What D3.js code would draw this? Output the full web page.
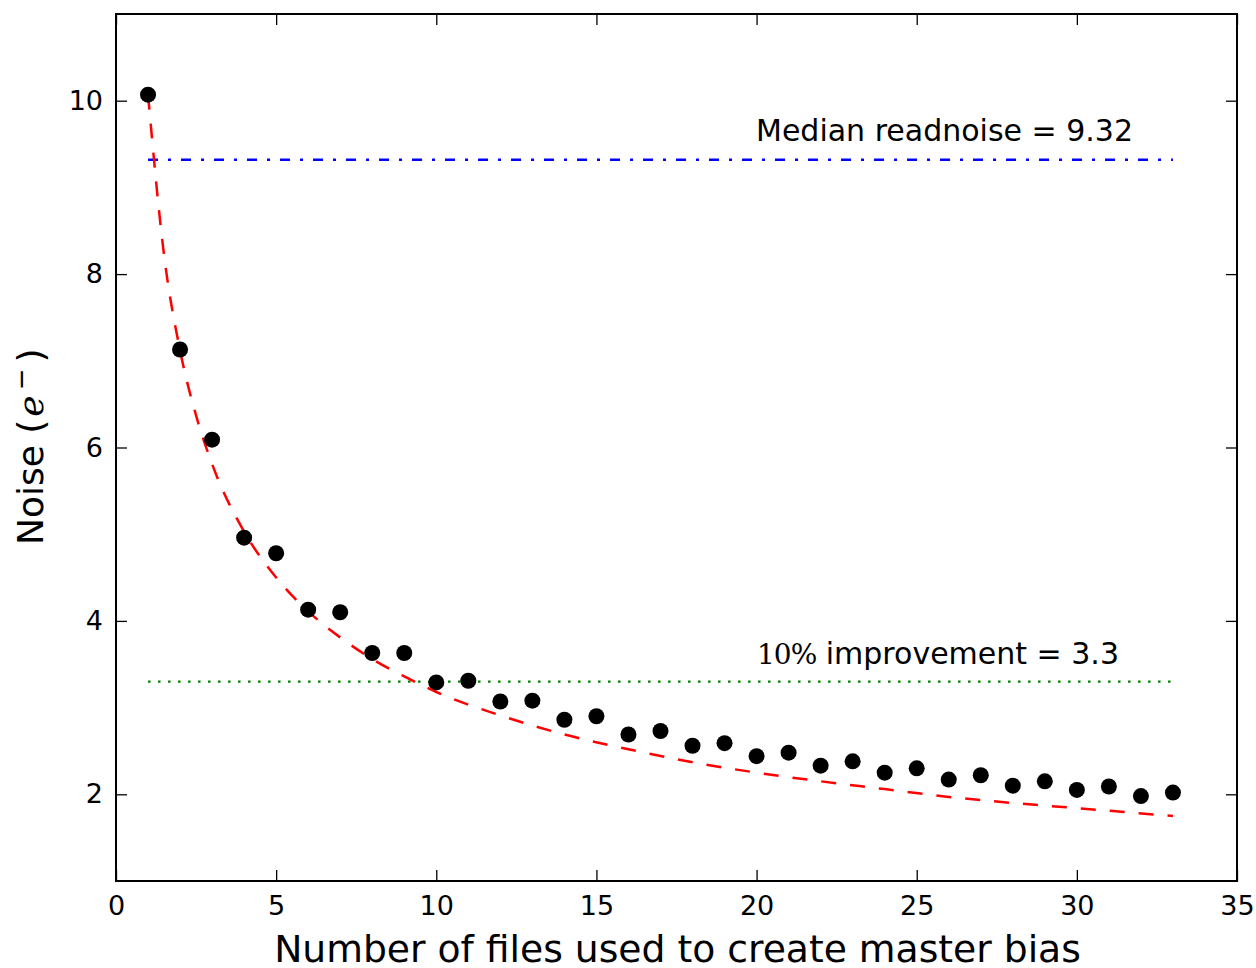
<!DOCTYPE html>
<html>
<head>
<meta charset="utf-8">
<script src="https://cdn.jsdelivr.net/npm/d3@7"></script>
<style>
  html, body { margin: 0; padding: 0; background: #fff; }
  svg { display: block; font-family: "DejaVu Sans", sans-serif; }
</style>
</head>
<body>
<svg id="chart" width="1256" height="968"></svg>
<script>
// Number of bias frames combined
const nFiles = d3.range(1, 34);
// Measured noise of the master bias (electrons)
const noise = [10.07, 7.13, 6.09, 4.96, 4.78, 4.13, 4.10, 3.63, 3.63, 3.29,
               3.31, 3.07, 3.08, 2.86, 2.90, 2.69, 2.73, 2.56, 2.59, 2.44,
               2.48, 2.33, 2.38, 2.25, 2.30, 2.17, 2.22, 2.10, 2.15, 2.05,
               2.09, 1.98, 2.02];
// Expected 1/sqrt(N) curve, sampled
const fitN     = [1, 1.5, 2, 2.5, 3, 4, 5, 6, 7, 8, 9, 10, 12, 14, 16, 18, 20, 22, 24, 26, 28, 30, 33];
const fitNoise = [10.07, 8.22, 7.12, 6.37, 5.81, 5.03, 4.50, 4.11, 3.81, 3.56, 3.36, 3.18,
                  2.91, 2.69, 2.52, 2.37, 2.25, 2.15, 2.06, 1.97, 1.90, 1.84, 1.75];
const medianReadnoise = 9.32;
const improvement = 3.3;
const xTicks = [0, 5, 10, 15, 20, 25, 30, 35];
const yTicks = [2, 4, 6, 8, 10];

const svg = d3.select("#chart");
const plotL = 116, plotR = 1237, plotT = 14, plotB = 881;

const x = d3.scaleLinear().domain([0, 35]).range([plotL, plotR]);
const y = d3.scaleLinear().domain([1, 11]).range([plotB, plotT]);

const tickFont = 27;
const tickLen = 11;

// Axes with inward ticks on all four sides
const axB = svg.append("g").attr("transform", `translate(0,${plotB})`)
  .call(d3.axisBottom(x).tickValues(xTicks).tickSizeInner(-tickLen).tickSizeOuter(0).tickPadding(15).tickFormat(d3.format("d")));
const axT = svg.append("g").attr("transform", `translate(0,${plotT})`)
  .call(d3.axisTop(x).tickValues(xTicks).tickSizeInner(-tickLen).tickSizeOuter(0).tickFormat(""));
const axL = svg.append("g").attr("transform", `translate(${plotL},0)`)
  .call(d3.axisLeft(y).tickValues(yTicks).tickSizeInner(-tickLen).tickSizeOuter(0).tickPadding(13).tickFormat(d3.format("d")));
const axR = svg.append("g").attr("transform", `translate(${plotR},0)`)
  .call(d3.axisRight(y).tickValues(yTicks).tickSizeInner(-tickLen).tickSizeOuter(0).tickFormat(""));

[axB, axT, axL, axR].forEach(g => {
  g.select(".domain").remove();
  g.selectAll(".tick line").attr("stroke", "#000").attr("stroke-width", 1.3);
  g.selectAll(".tick text").attr("fill", "#000").attr("font-size", tickFont)
    .attr("font-family", "DejaVu Sans, sans-serif");
});

// Plot frame
svg.append("rect")
  .attr("x", plotL).attr("y", plotT)
  .attr("width", plotR - plotL).attr("height", plotB - plotT)
  .attr("fill", "none").attr("stroke", "#000").attr("stroke-width", 2);

// Reference lines
svg.append("line")
  .attr("x1", x(1)).attr("x2", x(33))
  .attr("y1", y(medianReadnoise)).attr("y2", y(medianReadnoise))
  .attr("stroke", "#0000ff").attr("stroke-width", 2.5)
  .attr("stroke-dasharray", "10,10,3,10");
svg.append("line")
  .attr("x1", x(1)).attr("x2", x(33))
  .attr("y1", y(improvement)).attr("y2", y(improvement))
  .attr("stroke", "#008000").attr("stroke-width", 2.3)
  .attr("stroke-dasharray", "2.5,7.5");

// Fitted curve
svg.append("path")
  .datum(fitN.map((n, i) => [n, fitNoise[i]]))
  .attr("d", d3.line().x(d => x(d[0])).y(d => y(d[1])).curve(d3.curveMonotoneX))
  .attr("fill", "none").attr("stroke", "#ff0000").attr("stroke-width", 2.5)
  .attr("stroke-dasharray", "15,14");

// Measurements
svg.append("g").selectAll("circle")
  .data(nFiles.map((n, i) => [n, noise[i]]))
  .join("circle")
  .attr("cx", d => x(d[0])).attr("cy", d => y(d[1]))
  .attr("r", 8).attr("fill", "#000");

// Annotations
svg.append("text")
  .attr("x", 756).attr("y", y(medianReadnoise) - 19)
  .attr("font-size", 30).attr("fill", "#000")
  .text(`Median readnoise = ${medianReadnoise}`);
const imp = svg.append("text")
  .attr("x", 757).attr("y", y(improvement) - 18)
  .attr("font-size", 30).attr("fill", "#000");
imp.append("tspan").attr("font-family", "DejaVu Serif, serif").attr("font-size", 28)
  .attr("letter-spacing", -1).text("10%");
imp.append("tspan").text(` improvement = ${improvement}`);

// Axis titles
svg.append("text")
  .attr("x", 677.5).attr("y", 962)
  .attr("text-anchor", "middle").attr("font-size", 37.7).attr("fill", "#000")
  .text("Number of files used to create master bias");
const yl = svg.append("text")
  .attr("transform", `translate(43,545) rotate(-90)`)
  .attr("font-size", 36).attr("fill", "#000");
yl.append("tspan").text("Noise (");
yl.append("tspan").attr("dx", 3).attr("font-family", "DejaVu Serif, serif").attr("font-style", "italic").text("e");
yl.append("tspan").attr("dx", 5).attr("dy", -13).attr("font-size", 26).text("\u2212");
yl.append("tspan").attr("dx", 6).attr("dy", 13).text(")");
</script>
</body>
</html>
